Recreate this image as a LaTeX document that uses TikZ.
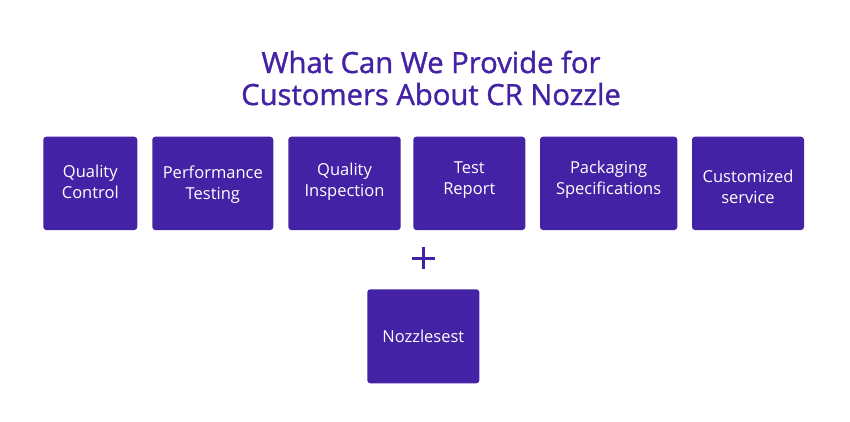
\documentclass[tikz,border=0pt]{standalone}
\usepackage{fontspec}
\setmainfont{Open Sans}
\newfontfamily\titlefont[FakeBold=1.2]{Open Sans}
\definecolor{purp}{HTML}{4422A5}
\begin{document}
\begin{tikzpicture}[x=1pt,y=-1pt,
  card/.style={fill=purp,rounded corners=3pt,draw=none},
  lbl/.style={text=white,font=\fontsize{16.5}{21}\selectfont,align=center,inner sep=0pt},
  ttl/.style={text=purp,font=\titlefont\fontsize{29.2}{32}\selectfont,align=center,inner sep=0pt}]
\useasboundingbox[fill=white] (0,0) rectangle (850,421);
\node[ttl] (title) at (431,78) {What Can We Provide for\\Customers About CR Nozzle};
\fill[card] (43.3,136.7) rectangle (137.3,230);
\node[lbl] (b1) at (90.3,182) {Quality\\Control};
\fill[card] (152.3,136.7) rectangle (273.3,230);
\node[lbl] (b2) at (212.8,185) {Performance\\Testing};
\fill[card] (288.3,136.7) rectangle (400.7,230);
\node[lbl] (b3) at (344.5,182) {Quality\\Inspection};
\fill[card] (413.3,136.7) rectangle (525.3,230);
\node[lbl] (b4) at (469.3,180) {Test\\Report};
\fill[card] (540,136.7) rectangle (677.3,230);
\node[lbl] (b5) at (608.6,180) {Packaging\\Specifications};
\fill[card] (692,136.7) rectangle (804,230);
\node[lbl] (b6) at (748,187) {Customized\\service};
\draw[purp,line width=2.5pt] (411.8,258.3) -- (434.8,258.3) (423.3,247.3) -- (423.3,269.3);
\fill[card] (367.3,289.3) rectangle (479.3,383.3);
\node[lbl] (n) at (423.3,336.3) {Nozzlesest};
\end{tikzpicture}
\end{document}
